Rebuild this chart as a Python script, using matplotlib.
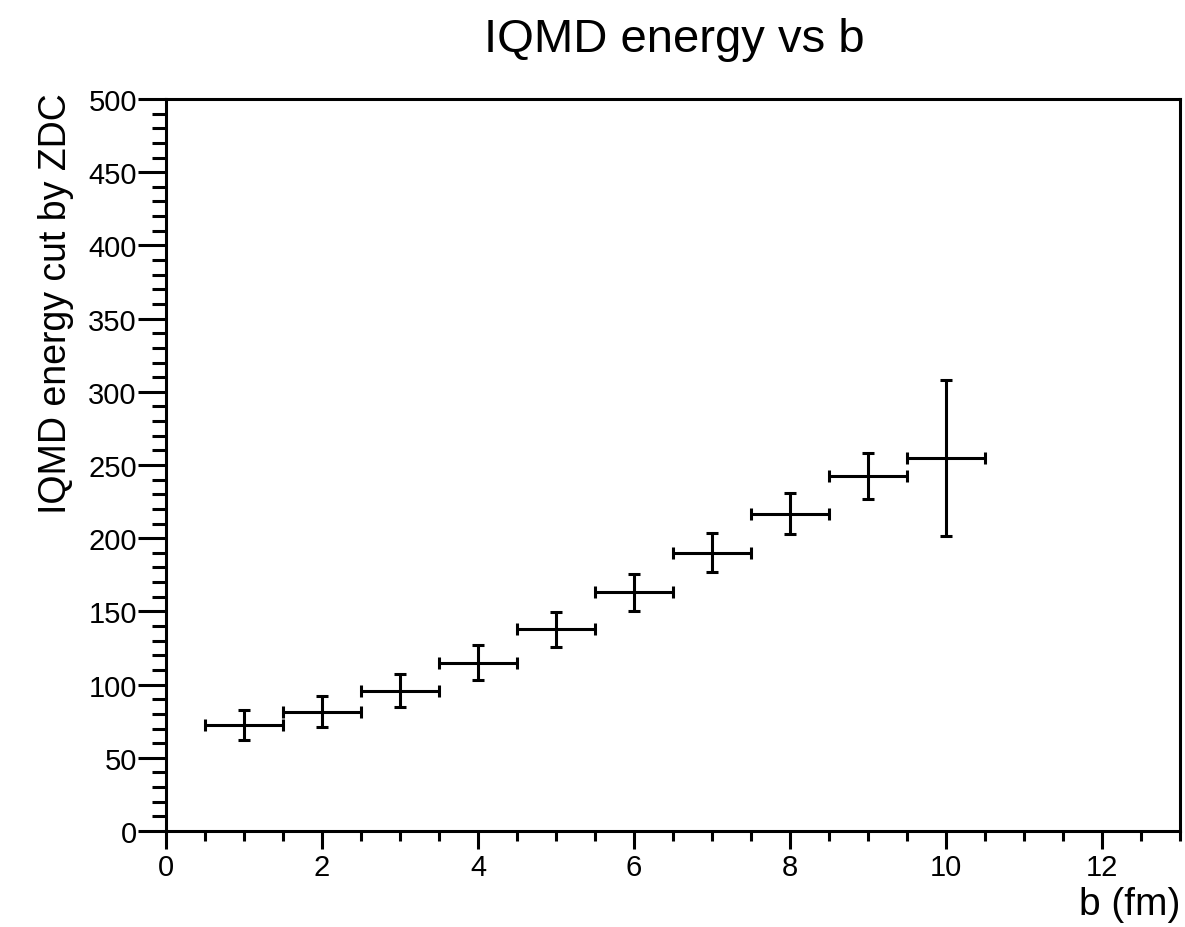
import matplotlib
matplotlib.use('Agg')
import matplotlib.pyplot as plt
from matplotlib.ticker import MultipleLocator
import numpy as np

plt.rcParams['font.family'] = ['Liberation Sans', 'DejaVu Sans']

# Data
b_vals = [1, 2, 3, 4, 5, 6, 7, 8, 9, 10]
energy = [72.5, 81.5, 95.8, 115.0, 137.8, 163.0, 190.0, 216.8, 242.5, 254.8]
energy_err = [10.4, 10.7, 11.2, 11.8, 12.1, 12.7, 13.4, 14.0, 16.0, 53.3]
b_err = [0.5] * len(b_vals)

fig = plt.figure(figsize=(11.85, 9.28), dpi=100)
ax = fig.add_axes([166 / 1185, 96 / 928, 1014 / 1185, 732 / 928])

ax.errorbar(b_vals, energy, xerr=b_err, yerr=energy_err, fmt='none',
            ecolor='black', elinewidth=2.2, capsize=4.5, capthick=2.2)

ax.set_xlim(0, 13)
ax.set_ylim(0, 500)

# ROOT-like axis ticks
ax.xaxis.set_major_locator(MultipleLocator(2))
ax.xaxis.set_minor_locator(MultipleLocator(0.5))
ax.yaxis.set_major_locator(MultipleLocator(50))
ax.yaxis.set_minor_locator(MultipleLocator(10))
ax.tick_params(axis='x', which='major', direction='out', length=13, width=2.2,
               labelsize=21, pad=3)
ax.tick_params(axis='x', which='minor', direction='out', length=7, width=2.2)
ax.tick_params(axis='y', which='major', direction='out', length=20, width=2.2,
               labelsize=21, pad=1)
ax.tick_params(axis='y', which='minor', direction='out', length=10, width=2.2)
for side in ax.spines.values():
    side.set_linewidth(2.2)

# titles placed like ROOT does
fig.text(674 / 1185, 1 - 40 / 928, 'IQMD energy vs b', ha='center', va='center',
         fontsize=34)
fig.text(56 / 1185, 1 - 93 / 928, 'IQMD energy cut by ZDC', rotation=90,
         ha='center', va='top', fontsize=27)
fig.text(1180 / 1185, 1 - 905 / 928, 'b (fm)', ha='right', va='center',
         fontsize=28)

fig.savefig('out.png', dpi=100)
